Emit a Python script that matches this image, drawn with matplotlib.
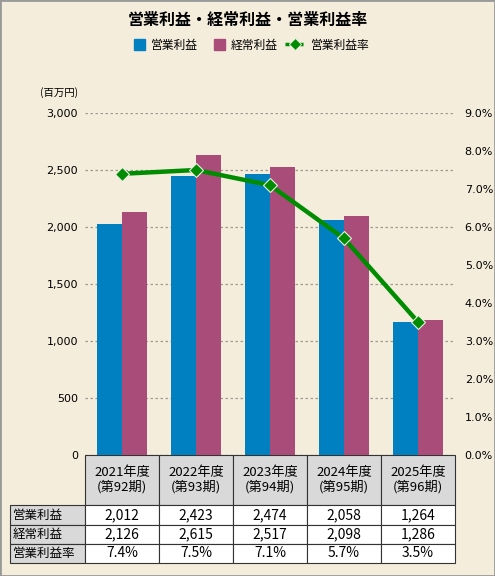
import matplotlib.pyplot as plt
import matplotlib.patches as mpatches
from matplotlib.lines import Line2D
from matplotlib.legend_handler import HandlerPatch
from matplotlib.ticker import FuncFormatter

plt.rcParams['font.family'] = ['Noto Sans CJK JP', 'DejaVu Sans']

# data
years = ['2021年度\n(第92期)', '2022年度\n(第93期)', '2023年度\n(第94期)',
         '2024年度\n(第95期)', '2025年度\n(第96期)']
row_names = ['営業利益', '経常利益', '営業利益率']
op_income = [2012, 2423, 2474, 2058, 1264]      # table values
ord_income = [2126, 2615, 2517, 2098, 1286]
op_margin = [7.4, 7.5, 7.1, 5.7, 3.5]
# bar heights as drawn in the chart
op_bars = [2025, 2445, 2465, 2060, 1165]
ord_bars = [2130, 2630, 2525, 2095, 1185]

bg = '#F4EDDC'
c_op = '#0080C0'
c_ord = '#AA4C7A'
c_rate = '#008C00'

fig = plt.figure(figsize=(4.95, 5.76), dpi=100, facecolor=bg)
ax = fig.add_axes([85/495, 1-455/576, 370/495, 342/576])
ax.set_facecolor(bg)
ax2 = ax.twinx()

x = list(range(len(years)))
w = 0.34
ax.bar([i - w/2 for i in x], op_bars, width=w, color=c_op, zorder=2)
ax.bar([i + w/2 for i in x], ord_bars, width=w, color=c_ord, zorder=2)
ax.set_xlim(-0.5, 4.5)
ax.set_ylim(0, 3000)
ax.set_yticks(range(0, 3001, 500))
ax.yaxis.set_major_formatter(FuncFormatter(lambda v, p: f'{int(v):,}'))
ax.grid(axis='y', color='#A09A90', linestyle=(0, (2, 2)), linewidth=0.9, zorder=0)
ax.set_xticks([])
ax.tick_params(axis='y', length=0, labelsize=8, pad=5)
for s in ax.spines.values():
    s.set_visible(False)

ax2.plot(x, op_margin, color=c_rate, linewidth=3.2, marker='D', markersize=7.5,
         markerfacecolor=c_rate, markeredgecolor='#E8F0E0', markeredgewidth=0.8, zorder=3)
ax2.set_ylim(0, 9)
ax2.set_yticks(range(0, 10))
ax2.yaxis.set_major_formatter(FuncFormatter(lambda v, p: f'{v:.1f}%'))
ax2.tick_params(axis='y', length=0, labelsize=8, pad=7)
for s in ax2.spines.values():
    s.set_visible(False)
for lab in ax.get_yticklabels() + ax2.get_yticklabels():
    lab.set_family('DejaVu Sans')

ax.text(-0.07, 1.06, '(百万円)', transform=ax.transAxes, fontsize=7.5, ha='center', va='center')

# table under the chart
cells = [[''] + years]
cells.append([row_names[0]] + [f'{v:,}' for v in op_income])
cells.append([row_names[1]] + [f'{v:,}' for v in ord_income])
cells.append([row_names[2]] + [f'{v:.1f}%' for v in op_margin])
tb = ax.table(cellText=cells, cellLoc='center', bbox=[-75/370, -108/342, 445/370, 108/342])
tb.auto_set_font_size(False)
heights = [50, 19.5, 19, 19]
for (r, c), cell in tb.get_celld().items():
    cell.set_height(heights[r])
    cell.set_width(75 if c == 0 else 74)
    cell.set_edgecolor('#333333')
    cell.set_linewidth(0.8)
    t = cell.get_text()
    if r == 0 and c == 0:
        cell.set_facecolor(bg)
        cell.set_edgecolor(bg)
        cell.visible_edges = ''
    elif r == 0:
        cell.set_facecolor('#D9D9D9')
        t.set_fontsize(9.5)
        t.set_linespacing(1.1)
    elif c == 0:
        cell.set_facecolor('#D9D9D9')
        t.set_fontsize(9)
        cell.set_text_props(ha='left')
        cell._loc = 'left'
        cell.PAD = 0.04
    else:
        cell.set_facecolor('white')
        t.set_fontsize(10)

fig.text(0.5, 1-20/576, '営業利益・経常利益・営業利益率', fontsize=11.5, fontweight='bold',
         ha='center', va='center')


# square legend keys, right-aligned inside the handle box
def square(legend, orig_handle, xdescent, ydescent, width, height, fontsize):
    return mpatches.Rectangle((width - height - xdescent, -ydescent), height, height)


handles = [mpatches.Patch(color=c_op, label='営業利益'),
           mpatches.Patch(color=c_ord, label='経常利益'),
           Line2D([], [], color=c_rate, linewidth=2.5, linestyle=(0, (1.2, 0.8)), marker='D',
                  markersize=6.5, markeredgecolor='#E8F0E0', markeredgewidth=0.6, label='営業利益率')]
fig.legend(handles=handles, loc='center', bbox_to_anchor=(0.5, 1-45/576), ncol=3,
           frameon=False, fontsize=8.5, handlelength=1.7, handleheight=1.1,
           columnspacing=0.6, handletextpad=0.5,
           handler_map={mpatches.Patch: HandlerPatch(patch_func=square)})

fig.add_artist(mpatches.Rectangle((0, 0), 1, 1, transform=fig.transFigure, fill=False,
                                  edgecolor='#999999', linewidth=2))

fig.savefig('out.png', dpi=100, facecolor=bg)
